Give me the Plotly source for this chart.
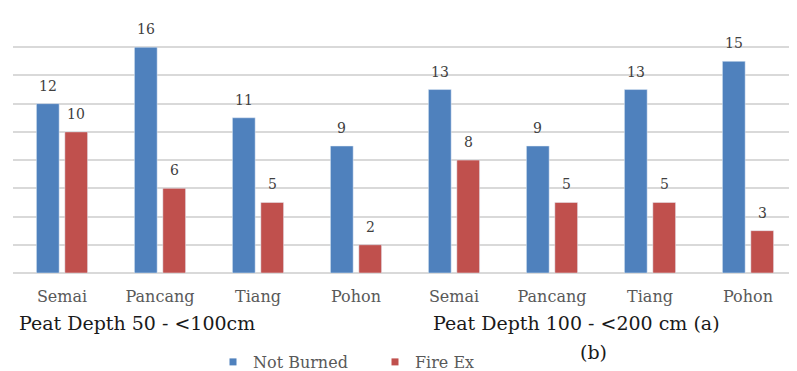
import plotly.graph_objects as go

categories = ["Semai", "Pancang", "Tiang", "Pohon", "Semai ", "Pancang ", "Tiang ", "Pohon "]
tick_labels = ["Semai", "Pancang", "Tiang", "Pohon", "Semai", "Pancang", "Tiang", "Pohon"]
not_burned = [12, 16, 11, 9, 13, 9, 13, 15]
fire_ex = [10, 6, 5, 2, 8, 5, 5, 3]

BLUE = "#4F81BD"
RED = "#C0504D"
SERIF = "DejaVu Serif"

fig = go.Figure()
fig.add_trace(go.Bar(x=categories, y=not_burned, name="Not Burned",
                     marker_color=BLUE, showlegend=False))
fig.add_trace(go.Bar(x=categories, y=fire_ex, name="Fire Ex",
                     marker_color=RED, showlegend=False))
# legend entries with small square markers
fig.add_trace(go.Scatter(x=[None], y=[None], mode="markers", name="Not Burned",
                         marker=dict(symbol="square", size=7, color=BLUE)))
fig.add_trace(go.Scatter(x=[None], y=[None], mode="markers", name="Fire Ex",
                         marker=dict(symbol="square", size=7, color=RED)))

# the page body has an 8px default margin, so the figure is drawn 8px in
OFF = 8
W, H = 797 - OFF, 371 - OFF
L, R, T, B = 13 - OFF, 0, 19 - OFF, 98
pw, ph = W - L - R, H - T - B

def px(x):
    return (x - OFF - L) / pw

def py(y):
    return (H - B - (y - OFF)) / ph

BARGAP, GROUPGAP = 0.42, 0.2
slot = (1 - BARGAP) / 2  # category units per bar slot
cat_px = pw / len(categories)
shift = slot / 2 * cat_px

annots = []
for series, sgn in ((not_burned, -1), (fire_ex, 1)):
    for c, v in zip(categories, series):
        annots.append(dict(x=c, y=v, xref="x", yref="y", text=str(v), showarrow=False,
                           xanchor="center", yanchor="bottom", xshift=sgn * shift, yshift=8,
                           font=dict(family=SERIF, size=14, color="#404040")))

annots += [
    dict(text="Peat Depth 50 - <100cm", xref="paper", yref="paper",
         x=px(17), y=py(323), xanchor="left", yanchor="middle", showarrow=False,
         font=dict(family=SERIF, size=19, color="#1a1a1a")),
    dict(text="Peat Depth 100 - <200 cm (a)", xref="paper", yref="paper",
         x=px(431), y=py(323), xanchor="left", yanchor="middle", showarrow=False,
         font=dict(family=SERIF, size=19, color="#1a1a1a")),
    dict(text="(b)", xref="paper", yref="paper",
         x=px(593), y=py(352), xanchor="center", yanchor="middle", showarrow=False,
         font=dict(family=SERIF, size=19, color="#1a1a1a")),
]

fig.update_layout(
    width=W, height=H,
    margin=dict(l=L, r=R, t=T, b=B, autoexpand=False),
    paper_bgcolor="white", plot_bgcolor="white",
    barmode="group", bargap=BARGAP, bargroupgap=GROUPGAP,
    font=dict(family=SERIF, color="#595959"),
    xaxis=dict(
        tickmode="array", tickvals=categories, ticktext=tick_labels,
        tickfont=dict(family=SERIF, size=16, color="#595959"),
        showgrid=False, showline=False, zeroline=False, automargin=False,
        ticks="outside", ticklen=9, tickcolor="rgba(0,0,0,0)",
    ),
    yaxis=dict(
        range=[0, 18], dtick=2, showticklabels=False, automargin=False,
        showgrid=True, gridcolor="#d9d9d9", gridwidth=1.5,
        zeroline=True, zerolinecolor="#d9d9d9", zerolinewidth=1.5,
        showline=False,
    ),
    legend=dict(
        orientation="h", x=px(213), xanchor="left", y=py(362), yanchor="middle",
        font=dict(family=SERIF, size=16, color="#595959"),
        entrywidth=117, entrywidthmode="pixels", itemwidth=30,
        bgcolor="rgba(0,0,0,0)", borderwidth=0, tracegroupgap=0,
    ),
    annotations=annots,
)

fig.write_html("out.html")
